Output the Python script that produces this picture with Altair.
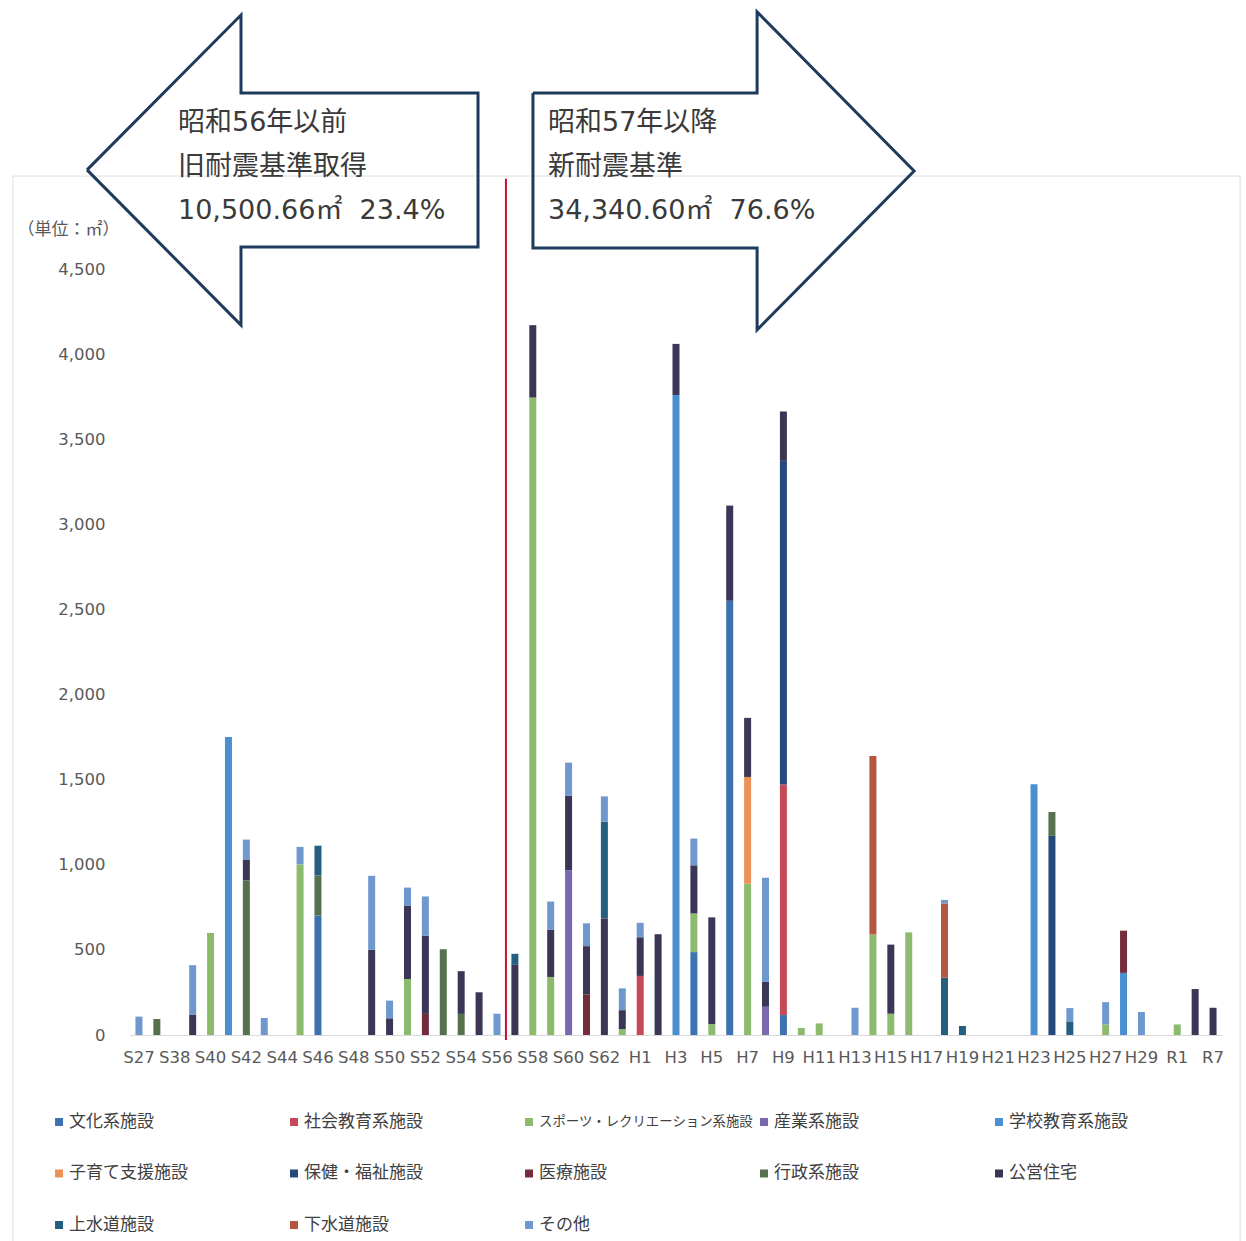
import altair as alt
import pandas as pd

FONT = "Noto Sans CJK JP"
LATIN_FONT = "DejaVu Sans, Noto Sans CJK JP"

# Fiscal years on the category axis (Showa / Heisei / Reiwa)
years = [
    "S27", "S37", "S38", "S39", "S40", "S41", "S42", "S43", "S44", "S45",
    "S46", "S47", "S48", "S49", "S50", "S51", "S52", "S53", "S54", "S55",
    "S56", "S57", "S58", "S59", "S60", "S61", "S62", "S63",
    "H1", "H2", "H3", "H4", "H5", "H6", "H7", "H8", "H9", "H10",
    "H11", "H12", "H13", "H14", "H15", "H16", "H17", "H18", "H19", "H20",
    "H21", "H22", "H23", "H24", "H25", "H26", "H27", "H28", "H29", "H30",
    "R1", "R6", "R7",
]

series_names = [
    "文化系施設", "社会教育系施設", "スポーツ・レクリエーション系施設", "産業系施設",
    "学校教育系施設", "子育て支援施設", "保健・福祉施設", "医療施設",
    "行政系施設", "公営住宅", "上水道施設", "下水道施設", "その他",
]
series_colors = [
    "#3c72b0", "#c44a5a", "#8cbb6e", "#7a68ae",
    "#4a90d0", "#ec9158", "#24497a", "#742b3c",
    "#56714e", "#3b3556", "#245f80", "#b5563e", "#6f98cf",
]

# Floor area (m2) by facility type and construction year
culture = {"S46": 702, "H4": 487, "H6": 2551, "H9": 117}
social_edu = {"H1": 347, "H9": 1355}
sports = {"S40": 600, "S45": 1002, "S51": 329, "S58": 3745, "S59": 341, "S63": 35,
          "H4": 227, "H5": 64, "H7": 889, "H10": 41, "H11": 68, "H14": 590,
          "H15": 125, "H16": 603, "H27": 62, "R1": 62}
industry = {"S60": 968, "H8": 166}
school = {"S41": 1751, "H3": 3760, "H23": 1473, "H28": 365}
childcare = {"H7": 627}
welfare = {"H9": 1901, "H24": 1170}
medical = {"S52": 124, "S61": 239, "H28": 248}
admin = {"S37": 94, "S42": 908, "S46": 235, "S53": 504, "S54": 124, "H24": 140}
housing = {"S39": 120, "S42": 123, "S49": 500, "S50": 98, "S51": 432, "S52": 460,
           "S54": 251, "S55": 251, "S57": 412, "S58": 425, "S59": 277, "S60": 437,
           "S61": 283, "S62": 685, "S63": 111, "H1": 227, "H2": 592, "H3": 300,
           "H4": 283, "H5": 627, "H6": 559, "H7": 347, "H8": 146, "H9": 290,
           "H15": 406, "R6": 270, "R7": 160}
water = {"S46": 175, "S57": 65, "S62": 568, "H18": 336, "H19": 53, "H25": 80}
sewer = {"H14": 1049, "H18": 437}
other = {"S27": 108, "S39": 290, "S42": 117, "S43": 100, "S45": 103, "S49": 435,
         "S50": 104, "S51": 105, "S52": 230, "S56": 125, "S59": 166, "S60": 195,
         "S61": 134, "S62": 149, "S63": 128, "H1": 85, "H4": 157, "H8": 612,
         "H13": 160, "H18": 20, "H25": 78, "H27": 131, "H29": 135}

series_values = [culture, social_edu, sports, industry, school, childcare, welfare,
                 medical, admin, housing, water, sewer, other]

# Annotation geometry, in category-index (x) and m2 (y) units
old_arrow_x = [-2.9, 5.7, 5.7, 18.94, 18.94, 5.7, 5.7, -2.9]
old_arrow_y = [5082, 5992, 5534, 5534, 4629, 4629, 4171, 5082]
new_arrow_x = [22.01, 34.53, 34.53, 43.3, 34.53, 34.53, 22.01, 22.01]
new_arrow_y = [5534, 5534, 6010, 5076, 4142, 4623, 4623, 5534]
old_lines = ["昭和56年以前", "旧耐震基準取得", "10,500.66㎡\u00a0\u00a023.4%"]
new_lines = ["昭和57年以降", "新耐震基準", "34,340.60㎡\u00a0\u00a076.6%"]
line_y = [5358, 5099, 4841]
old_text_x = 2.18
new_text_x = 22.85
divider_x = 20.5
divider_y = [-30, 5030]
frame_x = [-7.04, 61.51]
frame_y = [-1263, 5046]

W, H = 1092, 766

rows = []
for idx, (name, vals) in enumerate(zip(series_names, series_values)):
    for yr, v in vals.items():
        rows.append({"year": yr, "series": name, "order": idx, "value": v})
bars_df = pd.DataFrame(rows)

color_scale = alt.Scale(domain=series_names, range=series_colors)

bars = alt.Chart(bars_df).mark_bar(size=7).encode(
    x=alt.X(
        "year:N", sort=years,
        scale=alt.Scale(domain=years, paddingInner=0, paddingOuter=0),
        axis=alt.Axis(values=years[::2], title=None, labelAngle=0, ticks=False,
                      labelPadding=14, labelFontSize=16.5, labelColor="#595959",
                      domainColor="#d9d9d9", labelFont=LATIN_FONT, grid=False),
    ),
    y=alt.Y(
        "value:Q", stack="zero",
        scale=alt.Scale(domain=[0, 4500], nice=False),
        axis=alt.Axis(values=list(range(0, 4501, 500)), format=",.0f", ticks=False,
                      domain=False, labelPadding=25, labelFontSize=16.5,
                      labelColor="#595959", labelFont=LATIN_FONT,
                      gridColor="#d9d9d9", gridWidth=1,
                      title="（単位：㎡）", titleAngle=0, titleX=-62, titleY=-40,
                      titleAlign="center", titleBaseline="middle",
                      titleFontSize=17, titleFontWeight="normal",
                      titleColor="#595959", titleFont=FONT),
    ),
    color=alt.Color("series:N", scale=color_scale, legend=None),
    order=alt.Order("order:Q", sort="ascending"),
)


def xq(field):
    return alt.X(field, scale=alt.Scale(domain=[-0.5, 60.5], nice=False, zero=False), axis=None)


def yq(field):
    return alt.Y(field, scale=alt.Scale(domain=[0, 4500], nice=False, zero=False), axis=None)


frame_df = pd.DataFrame({"x": [frame_x[0]], "x2": [frame_x[1]],
                         "y": [frame_y[0]], "y2": [frame_y[1]]})
frame = alt.Chart(frame_df).mark_rect(fillOpacity=0, stroke="#dedede", strokeWidth=1,
                                      clip=False).encode(
    x=xq("x:Q"), x2="x2:Q", y=yq("y:Q"), y2="y2:Q")

arrow_rows = []
for name, xs, ys in [("old", old_arrow_x, old_arrow_y), ("new", new_arrow_x, new_arrow_y)]:
    for i, (ax, ay) in enumerate(zip(xs, ys)):
        arrow_rows.append({"arrow": name, "pt": i, "x": ax, "y": ay})
arrows = alt.Chart(pd.DataFrame(arrow_rows)).mark_line(
    stroke="#1f3b5c", strokeWidth=3, strokeJoin="miter", clip=False
).encode(x=xq("x:Q"), y=yq("y:Q"), detail="arrow:N", order="pt:Q")

divider_df = pd.DataFrame({"x": [divider_x], "y": [divider_y[0]], "y2": [divider_y[1]]})
divider = alt.Chart(divider_df).mark_rule(color="#c8102e", strokeWidth=2, clip=False).encode(
    x=xq("x:Q"), y=yq("y:Q"), y2="y2:Q")

text_rows = []
for tx, lines in [(old_text_x, old_lines), (new_text_x, new_lines)]:
    for ty, t in zip(line_y, lines):
        text_rows.append({"x": tx, "y": ty, "t": t})
texts = alt.Chart(pd.DataFrame(text_rows)).mark_text(
    align="left", baseline="middle", fontSize=27, font=LATIN_FONT, color="#3a3a3a",
    clip=False
).encode(x=xq("x:Q"), y=yq("y:Q"), text="t:N")

# Legend laid out as a 5-column grid below the plot
legend_df = pd.DataFrame({
    "name": series_names,
    "col": [i % 5 for i in range(len(series_names))],
    "row": [i // 5 for i in range(len(series_names))],
})
lx = alt.X("col:Q", scale=alt.Scale(domain=[0.302, 4.949], nice=False, zero=False), axis=None)
ly = alt.Y("row:Q", scale=alt.Scale(domain=[-16.563, -1.689], nice=False, zero=False,
                                    reverse=True), axis=None)
legend_marks = alt.Chart(legend_df).mark_square(size=64, opacity=1, clip=False).encode(
    x=lx, y=ly, color=alt.Color("name:N", scale=color_scale, legend=None))
legend_text = alt.Chart(legend_df).mark_text(
    align="left", baseline="middle", dx=10, font=FONT, color="#404040", clip=False
).encode(
    x=lx, y=ly, text="name:N",
    size=alt.condition("length(datum.name) > 10", alt.value(13.4), alt.value(17)),
)

chart = alt.layer(
    frame, bars, divider, arrows, texts, legend_marks, legend_text
).resolve_scale(
    x="independent", y="independent"
).properties(
    width=W, height=H,
    autosize=alt.AutoSizeParams(type="none"),
    padding={"left": 130, "top": 269, "right": 24, "bottom": 206},
    background="white",
).configure_view(stroke=None)

chart.save("out.html", embed_options={"renderer": "svg", "actions": False})
